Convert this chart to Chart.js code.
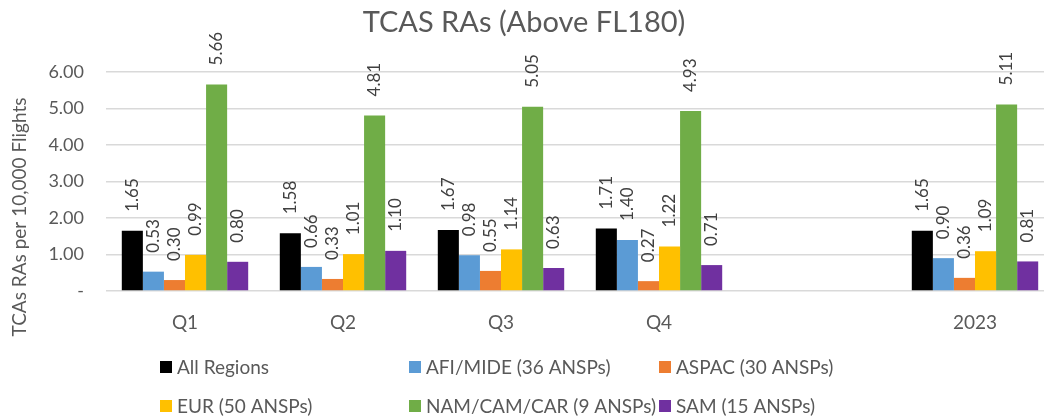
<!DOCTYPE html>
<html>
<head>
<meta charset="utf-8">
<script src="https://cdn.jsdelivr.net/npm/chart.js@4"></script>
<style>
  html, body { margin: 0; padding: 0; background: #fff; overflow: hidden; }
  #wrap { position: relative; width: 1064px; height: 419px; }
</style>
</head>
<body>
<div id="wrap"><canvas id="grafico" width="1064" height="419"></canvas></div>
<script>
'use strict';

// dados do grafico
const periodos = ['Q1', 'Q2', 'Q3', 'Q4', '', '2023'];
const regioes = ['All Regions', 'AFI/MIDE (36 ANSPs)', 'ASPAC (30 ANSPs)', 'EUR (50 ANSPs)', 'NAM/CAM/CAR (9 ANSPs)', 'SAM (15 ANSPs)'];
const allRegions = [1.65, 1.58, 1.67, 1.71, null, 1.65];
const afiMide = [0.53, 0.66, 0.98, 1.40, null, 0.90];
const aspac = [0.30, 0.33, 0.55, 0.27, null, 0.36];
const eur = [0.99, 1.01, 1.14, 1.22, null, 1.09];
const namCamCar = [5.66, 4.81, 5.05, 4.93, null, 5.11];
const sam = [0.80, 1.10, 0.63, 0.71, null, 0.81];
const yTicks = [0, 1, 2, 3, 4, 5, 6];

const cores = ['#000000', '#5B9BD5', '#ED7D31', '#FFC000', '#70AD47', '#7030A0'];
const series = [allRegions, afiMide, aspac, eur, namCamCar, sam];

const FONTE = 'Lato, "Open Sans", sans-serif';
const CINZA = '#595959';

// rotulos de valor, titulo, titulo do eixo e legenda
const extras = {
    id: 'extras',
    afterDatasetsDraw(chart) {
        const ctx = chart.ctx;
        ctx.save();
        ctx.fillStyle = '#404040';
        ctx.font = '17px ' + FONTE;
        ctx.textAlign = 'left';
        ctx.textBaseline = 'middle';
        chart.data.datasets.forEach((ds, i) => {
            chart.getDatasetMeta(i).data.forEach((bar, j) => {
                const v = ds.data[j];
                if (v === null) return;
                ctx.save();
                ctx.translate(bar.x, bar.y - 19);
                ctx.rotate(-Math.PI / 2);
                ctx.fillText(v.toFixed(2), 0, 0);
                ctx.restore();
            });
        });
        ctx.restore();
    },
    afterDraw(chart) {
        const ctx = chart.ctx;
        ctx.save();
        ctx.fillStyle = CINZA;
        // titulo
        ctx.font = '29px ' + FONTE;
        ctx.textAlign = 'center';
        ctx.textBaseline = 'middle';
        ctx.fillText('TCAS RAs (Above FL180)', 524, 23);
        // titulo do eixo y
        ctx.save();
        ctx.translate(20, 217);
        ctx.rotate(-Math.PI / 2);
        ctx.font = '19px ' + FONTE;
        ctx.fillText('TCAs RAs per 10,000 Flights', 0, 0);
        ctx.restore();
        // legenda em 3 colunas
        const colX = [160, 409, 659];
        const rowY = [367, 406];
        ctx.font = '19px ' + FONTE;
        ctx.textAlign = 'left';
        chart.data.datasets.forEach((ds, i) => {
            const x = colX[i % 3];
            const y = rowY[Math.floor(i / 3)];
            ctx.fillStyle = ds.backgroundColor;
            ctx.fillRect(x, y - 6, 12, 12);
            ctx.fillStyle = CINZA;
            ctx.fillText(ds.label, x + 17, y + 1);
        });
        ctx.restore();
    }
};

const ctx = document.getElementById('grafico').getContext('2d');
const grafico = new Chart(ctx, {
    type: 'bar',
    plugins: [extras],
    data: {
        labels: periodos,
        datasets: regioes.map((nome, i) => ({
            label: nome,
            data: series[i],
            backgroundColor: cores[i],
            borderWidth: 0,
            categoryPercentage: 0.8,
            barPercentage: 1.0
        }))
    },
    options: {
        responsive: false,
        animation: false,
        layout: {
            padding: { top: 72, right: 10, bottom: 68, left: 0 }
        },
        scales: {
            x: {
                grid: { display: false },
                border: { display: false },
                ticks: {
                    color: CINZA,
                    padding: 12,
                    font: { family: FONTE, size: 19 }
                },
                afterFit: (scale) => { scale.height = 60; }
            },
            y: {
                min: 0,
                max: 6,
                afterBuildTicks: (scale) => { scale.ticks = yTicks.map(v => ({ value: v })); },
                grid: { color: '#D9D9D9', lineWidth: 1.5, drawTicks: false },
                border: { display: false },
                ticks: {
                    color: CINZA,
                    padding: 22,
                    font: { family: FONTE, size: 18 },
                    callback: (v) => v === 0 ? '-' : v.toFixed(2)
                },
                afterFit: (scale) => { scale.width = 106; }
            }
        },
        plugins: {
            legend: { display: false },
            title: { display: false },
            tooltip: { enabled: false }
        }
    }
});
</script>
</body>
</html>
